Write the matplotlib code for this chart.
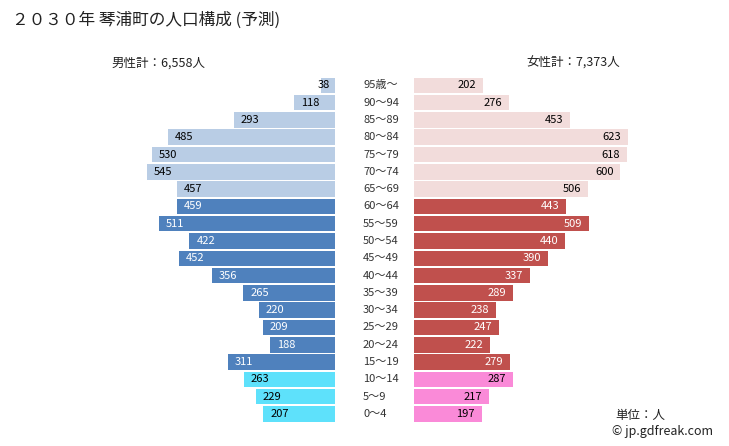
import numpy as np
import matplotlib.pyplot as plt

plt.rcParams['font.family'] = ['Noto Sans CJK JP', 'DejaVu Sans']

ages = ['0～4', '5～9', '10～14', '15～19', '20～24', '25～29', '30～34',
        '35～39', '40～44', '45～49', '50～54', '55～59', '60～64', '65～69',
        '70～74', '75～79', '80～84', '85～89', '90～94', '95歳～']
male = [207, 229, 263, 311, 188, 209, 220, 265, 356, 452, 422, 511, 459,
        457, 545, 530, 485, 293, 118, 38]
female = [197, 217, 287, 279, 222, 247, 238, 289, 337, 390, 440, 509, 443,
          506, 600, 618, 623, 453, 276, 202]

title = '２０３０年 琴浦町の人口構成 (予測)'
male_total = '男性計：6,558人'
female_total = '女性計：7,373人'

W, H = 729, 446
px = 0.344          # pixels per person
cx = 374.25         # centre of the gap
half = 39.75 / px   # half gap in people units
pitch = 17.3

fig = plt.figure(figsize=(W / 100, H / 100), dpi=100)
ax = fig.add_axes([0, 0, 1, 1])
ax.set_xlim(-cx / px, (W - cx) / px)
lo = -(H - 414) / pitch
ax.set_ylim(lo, lo + H / pitch)
ax.axis('off')

y = np.arange(len(ages))
mcol = ['#5ee1fb'] * 3 + ['#4f81bd'] * 10 + ['#b9cde5'] * 7
fcol = ['#fa8ad8'] * 3 + ['#c0504d'] * 10 + ['#f2dcdb'] * 7
tcol = ['black'] * 3 + ['white'] * 10 + ['black'] * 7

ax.barh(y, -np.array(male), left=-half, height=0.9, color=mcol)
ax.barh(y, female, left=half, height=0.9, color=fcol)

for i in range(len(ages)):
    m = male[i]
    if m * px < 30:
        ax.text(-half - 5 / px, i, str(m), ha='right', va='center',
                fontsize=8, color=tcol[i])
    else:
        ax.text(-half - m + 7 / px, i, str(m), ha='left', va='center',
                fontsize=8, color=tcol[i])
    ax.text(half + female[i] - 7 / px, i, str(female[i]), ha='right',
            va='center', fontsize=8, color=tcol[i])
    ax.text((363 - cx) / px, i, ages[i], ha='left', va='center',
            fontsize=8, color='#333333')

fig.text(12 / W, 1 - 20 / H, title, ha='left', va='center', fontsize=12,
         color='#222222')
fig.text(158 / W, 1 - 63 / H, male_total, ha='center', va='center',
         fontsize=9, color='#222222')
fig.text(573 / W, 1 - 63 / H, female_total, ha='center', va='center',
         fontsize=9, color='#222222')
fig.text(615 / W, 1 - 416 / H, '単位：人', ha='left', va='center',
         fontsize=9, color='#222222')
fig.text(612 / W, 1 - 432 / H, '© jp.gdfreak.com', ha='left', va='center',
         fontsize=9, color='#222222')

fig.savefig('out.png', dpi=100)
